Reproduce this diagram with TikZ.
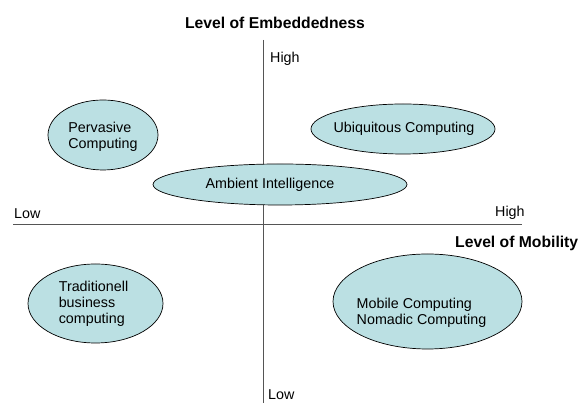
\documentclass[tikz,border=0pt]{standalone}
\usepackage{fontspec}
\setmainfont{Liberation Sans}
\usetikzlibrary{shapes.geometric}

\definecolor{areafill}{RGB}{187,224,227}
\definecolor{axisgray}{RGB}{85,85,85}

\begin{document}
\begin{tikzpicture}[x=1pt, y=1pt]
    \tikzset{
        area/.style={ellipse, draw=black, line width=0.7pt, fill=areafill, inner sep=0pt},
        axis/.style={draw=axisgray, line width=1pt},
        txt/.style={inner sep=0pt, align=left, font=\fontsize{14.3}{16.3}\selectfont},
        heading/.style={inner sep=0pt, font=\fontsize{15.7}{18}\selectfont\bfseries},
    }
    \useasboundingbox (0,0) rectangle (578,403);

    % Axes
    \coordinate (ytop)    at (263,363);
    \coordinate (ybottom) at (263,0);
    \coordinate (xleft)   at (13,178);
    \coordinate (xright)  at (522,178);
    \draw[axis] (ytop) -- (ybottom);
    \draw[axis] (xleft) -- (xright);

    % Axis labels
    \node[heading, anchor=base]      (embedded) at (275,374) {Level of Embeddedness};
    \node[txt, anchor=base west]     (yhigh)    at (270,340) {High};
    \node[txt, anchor=base west]     (ylow)     at (268,3)   {Low};
    \node[txt, anchor=base west]     (xlow)     at (14,184)  {Low};
    \node[txt, anchor=base west]     (xhigh)    at (495,186) {High};
    \node[heading, anchor=base west] (mobility) at (455,155) {Level of Mobility};

    % Areas
    \node[area, minimum width=110pt, minimum height=70pt] (pervasive)  at (103,268)   {};
    \node[area, minimum width=184pt, minimum height=50pt] (ubiquitous) at (403,274)   {};
    \node[area, minimum width=254pt, minimum height=41pt] (ambient)    at (280,218.5) {};
    \node[area, minimum width=135pt, minimum height=79pt] (business)   at (95.5,99.5) {};
    \node[area, minimum width=189pt, minimum height=95pt] (mobile)     at (427.5,101.5) {};

    % Area names
    \node[txt] (pervasive-t)  at (103,266)    {Pervasive\\Computing};
    \node[txt] (ubiquitous-t) at (404,274)    {Ubiquitous Computing};
    \node[txt] (ambient-t)    at (270,218)    {Ambient Intelligence};
    \node[txt] (business-t)   at (93.5,99)    {Traditionell\\business\\computing};
    \node[txt] (mobile-t)     at (421.5,90.5) {Mobile Computing\\Nomadic Computing};
\end{tikzpicture}
\end{document}
